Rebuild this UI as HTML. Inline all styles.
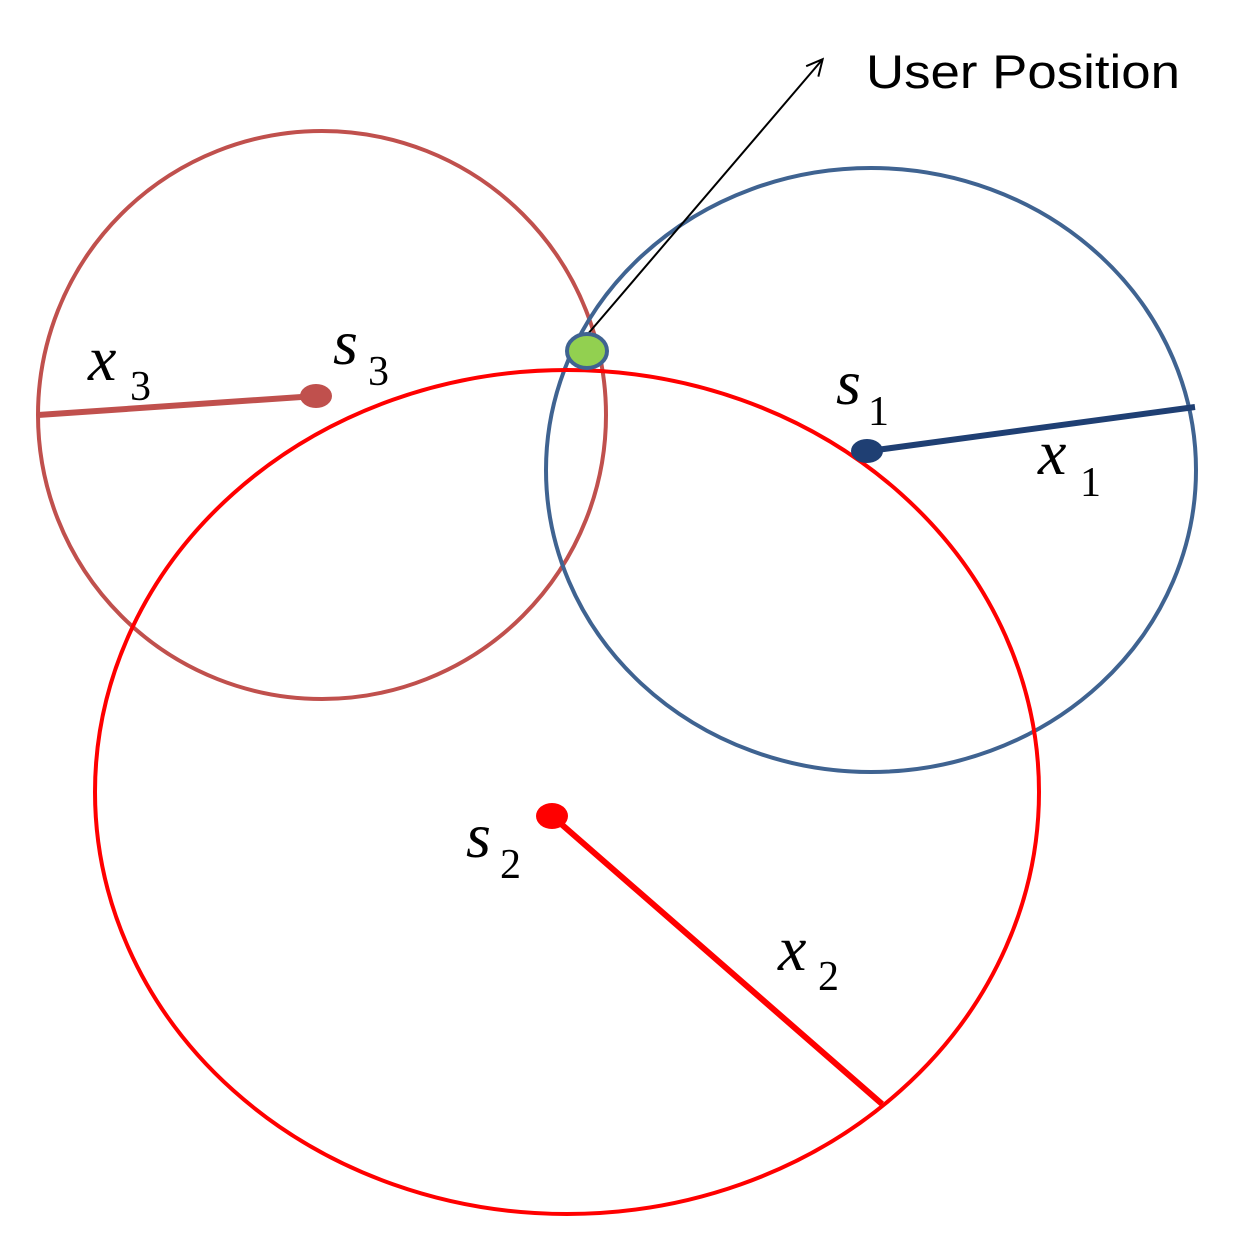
<!DOCTYPE html>
<html><head><meta charset="utf-8"><style>
html,body{margin:0;padding:0;background:#fff;}
svg{display:block;}
.m{font-family:"Liberation Serif",serif;font-style:italic;font-size:64px;fill:#000;}
.sub{font-family:"Liberation Serif",serif;font-size:42px;fill:#000;}
</style></head><body>
<svg width="1245" height="1255" viewBox="0 0 1245 1255">
<defs><marker id="ar" markerWidth="20" markerHeight="20" refX="17" refY="10" orient="auto" markerUnits="userSpaceOnUse">
<path d="M2,2 L18,10 L2,18" fill="none" stroke="#000" stroke-width="2"/></marker></defs>
<ellipse cx="322" cy="415" rx="284" ry="284" fill="none" stroke="#c0504d" stroke-width="4"/>
<ellipse cx="871" cy="470" rx="325" ry="302" fill="none" stroke="#3f6391" stroke-width="4"/>
<ellipse cx="567" cy="792" rx="472" ry="422" fill="none" stroke="#ff0000" stroke-width="4"/>
<line x1="38" y1="415" x2="316" y2="396" stroke="#c0504d" stroke-width="6"/>
<ellipse cx="316" cy="396" rx="16" ry="12" fill="#c0504d"/>
<line x1="869" y1="451" x2="1195" y2="407" stroke="#1f3f73" stroke-width="6"/>
<ellipse cx="867" cy="451" rx="16" ry="12" fill="#1f3f73"/>
<line x1="552" y1="816" x2="882" y2="1104" stroke="#ff0000" stroke-width="6"/>
<ellipse cx="552" cy="816" rx="16" ry="13" fill="#ff0000"/>
<line x1="587" y1="335" x2="822" y2="60" stroke="#000" stroke-width="2" marker-end="url(#ar)"/>
<ellipse cx="587" cy="351" rx="20" ry="17" fill="#92d050" stroke="#3f6391" stroke-width="4"/>
<text x="866" y="88" font-family="'Liberation Sans',sans-serif" font-size="47" fill="#000" textLength="314" lengthAdjust="spacingAndGlyphs">User Position</text>
<text x="88" y="380" class="m">x</text><text x="130" y="400" class="sub">3</text>
<text x="333" y="364" class="m">s</text><text x="368" y="385" class="sub">3</text>
<text x="836" y="404" class="m">s</text><text x="868" y="425" class="sub">1</text>
<text x="1038" y="474" class="m">x</text><text x="1080" y="496" class="sub">1</text>
<text x="466" y="857" class="m">s</text><text x="500" y="878" class="sub">2</text>
<text x="778" y="970" class="m">x</text><text x="818" y="990" class="sub">2</text>
</svg>
</body></html>
